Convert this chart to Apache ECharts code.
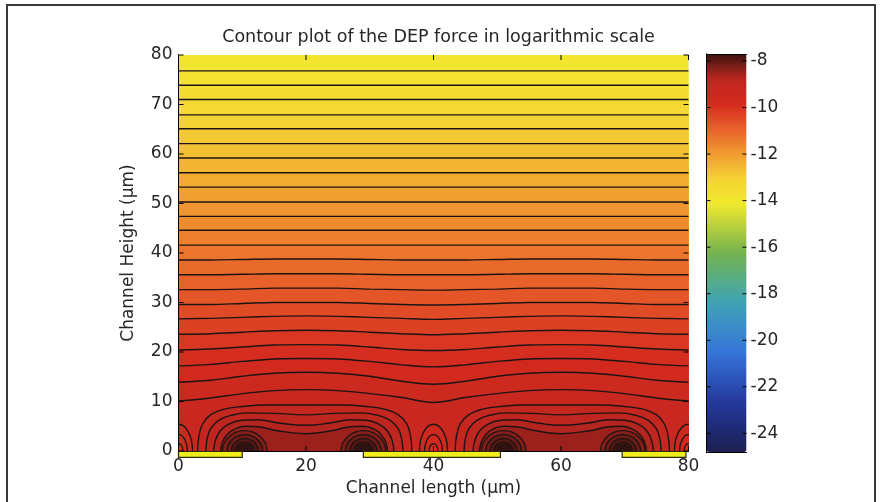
<!DOCTYPE html>
<html><head><meta charset="utf-8">
<script src="https://cdn.jsdelivr.net/npm/echarts@6/dist/echarts.min.js"></script>
<style>html,body{margin:0;padding:0;background:#fff}#c{width:881px;height:502px}</style>
</head><body><div id="c"></div>
<script>
// ================= DATA =================
const xTicks = [0, 20, 40, 60, 80];
const yTicks = [0, 10, 20, 30, 40, 50, 60, 70, 80];
const colorbarTicks = [-24, -22, -20, -18, -16, -14, -12, -10, -8];
const colorRange = [-24.8, -7.7];
// electrodes along the channel floor (µm)
const electrodes = [[0, 10], [29, 50.5], [69.6, 79.6]];
// value of the band above the highest contour line
const topBandValue = -13.9;
// straight far-field contour lines: level and height (µm)
const flatLevels  = [-13.8, -13.6, -13.4, -13.2, -13.0, -12.8, -12.6, -12.4, -12.2, -12.0, -11.8, -11.6, -11.4];
const flatHeights = [ 76.8,  73.9,  71.0,  67.9,  65.1,  62.1,  59.2,  56.2,  53.3,  50.3,  47.4,  44.6,  41.6];
// slightly undulating contour lines, heights (µm) at waveX
const waveX = [0, 5, 10, 15, 20, 25, 30, 35, 40, 45, 50, 55, 60, 65, 70, 75, 80];
const waveLevels = [-11.2, -11.0, -10.8, -10.6, -10.4, -10.2, -10.0, -9.8, -9.6, -9.4];
const waveHeights = [
  [38.6, 38.6, 38.7, 38.8, 38.8, 38.8, 38.7, 38.6, 38.6, 38.6, 38.7, 38.8, 38.8, 38.8, 38.7, 38.6, 38.6],
  [35.6, 35.6, 35.7, 35.8, 35.8, 35.8, 35.7, 35.6, 35.6, 35.6, 35.7, 35.8, 35.8, 35.8, 35.7, 35.6, 35.6],
  [32.6, 32.6, 32.7, 32.9, 32.9, 32.9, 32.7, 32.6, 32.5, 32.6, 32.7, 32.9, 32.9, 32.9, 32.7, 32.6, 32.6],
  [29.6, 29.6, 29.8, 30.0, 30.0, 30.0, 29.8, 29.6, 29.5, 29.6, 29.8, 30.0, 30.0, 30.0, 29.8, 29.6, 29.6],
  [26.7, 26.8, 27.0, 27.2, 27.3, 27.2, 27.0, 26.8, 26.6, 26.8, 27.0, 27.2, 27.3, 27.2, 27.0, 26.8, 26.7],
  [23.6, 23.7, 24.0, 24.3, 24.4, 24.3, 24.0, 23.7, 23.5, 23.7, 24.0, 24.3, 24.4, 24.3, 24.0, 23.7, 23.6],
  [20.4, 20.6, 21.0, 21.4, 21.5, 21.4, 21.0, 20.5, 20.3, 20.5, 21.0, 21.4, 21.5, 21.4, 21.0, 20.6, 20.4],
  [17.2, 17.5, 18.1, 18.6, 18.7, 18.6, 18.1, 17.4, 17.0, 17.4, 18.1, 18.6, 18.7, 18.6, 18.1, 17.5, 17.2],
  [13.9, 14.3, 15.1, 15.7, 15.9, 15.7, 15.1, 14.1, 13.5, 14.1, 15.1, 15.7, 15.9, 15.7, 15.1, 14.3, 13.9],
  [10.1, 10.7, 11.6, 12.2, 12.4, 12.2, 11.6, 10.8,  9.8, 10.8, 11.6, 12.2, 12.4, 12.2, 11.6, 10.7, 10.1]
];
// dome-shaped contours over the electrode gaps: level and points [x, y] in µm
const domeLevels = [-9.2, -9.2, -9.0, -9.0, -8.8, -8.8, -8.6, -8.6];
const domePoints = [
  [[3.0,0],[3.2,3.0],[3.8,5.5],[5.0,7.3],[7.0,8.4],[10,9.0],[14,9.3],[20,9.3],[25.5,9.3],[29.5,9.0],[32.5,8.4],[34.5,7.3],[35.8,5.5],[36.4,3.0],[36.6,0]],
  [[43.4,0],[43.6,3.0],[44.2,5.5],[45.5,7.3],[47.5,8.4],[50.5,9.0],[54.5,9.3],[60,9.3],[66,9.3],[70,9.0],[73,8.4],[75,7.3],[76.2,5.5],[76.8,3.0],[77.0,0]],
  [[4.3,0],[4.5,2.5],[5.1,4.6],[6.3,6.2],[8.2,7.2],[11,7.7],[15,7.6],[20,7.3],[24.5,7.6],[28.5,7.7],[31.3,7.2],[33.2,6.2],[34.4,4.6],[35.0,2.5],[35.2,0]],
  [[44.8,0],[45.0,2.5],[45.6,4.6],[46.8,6.2],[48.7,7.2],[51.5,7.7],[55.5,7.6],[60,7.3],[65,7.6],[69,7.7],[71.8,7.2],[73.7,6.2],[74.9,4.6],[75.5,2.5],[75.7,0]],
  [[5.5,0],[5.8,2.2],[6.5,4.0],[7.8,5.4],[10,6.2],[12.5,6.3],[16,5.6],[20,5.2],[23.5,5.6],[27,6.3],[29.5,6.2],[31.5,5.4],[32.8,4.0],[33.5,2.2],[33.8,0]],
  [[46.2,0],[46.5,2.2],[47.2,4.0],[48.5,5.4],[50.5,6.2],[53,6.3],[56.5,5.6],[60,5.2],[64,5.6],[67.5,6.3],[70,6.2],[72.2,5.4],[73.5,4.0],[74.2,2.2],[74.5,0]],
  [[6.6,0],[6.9,1.8],[7.6,3.3],[8.8,4.4],[10.5,5.0],[12.5,4.9],[15.5,4.1],[20,3.5],[24,4.1],[27,4.9],[29,5.0],[30.7,4.4],[31.8,3.3],[32.5,1.8],[32.8,0]],
  [[47.2,0],[47.5,1.8],[48.2,3.3],[49.3,4.4],[51,5.0],[53,4.9],[56,4.1],[60,3.5],[64.5,4.1],[67.5,4.9],[69.5,5.0],[71.2,4.4],[72.4,3.3],[73.1,1.8],[73.4,0]]
];
// rings around the electrode edges: centre x, half-width, height (µm), level
const ringCentres = [10.4, 29.0, 51.0, 69.7];
const ringLevels  = [-8.4, -8.2, -8.0, -7.8, -7.6, -7.4];
const ringWidths  = [3.5, 2.8, 2.1, 1.5, 1.0, 0.5];
const ringHeights = [4.1, 3.3, 2.5, 1.8, 1.2, 0.6];
// low-force arches above the electrode centres
const archCentres = [0, 40, 80];
const archLevels  = [-9.4, -9.6, -9.8];
const archWidths  = [2.2, 1.4, 0.7];
const archHeights = [5.4, 3.3, 1.5];

// ================= STYLE =================
const FONT = 'DejaVu Sans';
const TXT = '#262626';
const LINE = '#1c1414';
const cmap = ['#1d1f4f', '#202c78', '#24399a', '#2c56bc', '#3574d8', '#3a8cc8', '#3fa3b6', '#58ac82', '#74b24e',
              '#b4ce3e', '#f2ea2e', '#f4d234', '#f09a30', '#e8602a', '#d42a1e', '#bc2620', '#3c1410'];

function rgb(h) { return [parseInt(h.slice(1,3),16), parseInt(h.slice(3,5),16), parseInt(h.slice(5,7),16)]; }
function colorAt(v) {
  let t = (v - colorRange[0]) / (colorRange[1] - colorRange[0]);
  t = Math.max(0, Math.min(1, t));
  const s = t * (cmap.length - 1);
  const i = Math.min(cmap.length - 2, Math.floor(s));
  const f = s - i;
  const a = rgb(cmap[i]), b = rgb(cmap[i + 1]);
  const c = a.map((u, k) => Math.round(u + (b[k] - u) * f));
  return 'rgb(' + c.join(',') + ')';
}

const series = [];
function addContour(points, fillValue, smooth, stroke) {
  series.push({
    type: 'line', xAxisIndex: 0, yAxisIndex: 0, data: points, smooth: smooth,
    symbol: 'none', silent: true, animation: false, z: 2,
    lineStyle: stroke ? { color: LINE, width: 1.4 } : { width: 0, opacity: 0 },
    areaStyle: { color: colorAt(fillValue), opacity: 1 }
  });
}
addContour([[0, 80], [80, 80]], topBandValue, false, false);
flatLevels.forEach((lv, i) => addContour([[0, flatHeights[i]], [80, flatHeights[i]]], lv + 0.1, false, true));
waveLevels.forEach((lv, i) => addContour(waveX.map((x, j) => [x, waveHeights[i][j]]), lv + 0.1, 0.35, true));
domeLevels.forEach((lv, i) => addContour(domePoints[i], lv + 0.1, 0.45, true));

const ellipseItems = [];
ringLevels.forEach((lv, k) => ringCentres.forEach(cx => ellipseItems.push([cx, ringWidths[k], ringHeights[k], lv + 0.1])));
archLevels.forEach((lv, k) => archCentres.forEach(cx => ellipseItems.push([cx, archWidths[k], archHeights[k], lv - 0.1])));
series.push({
  type: 'custom', xAxisIndex: 0, yAxisIndex: 0, clip: true, silent: true, animation: false, z: 3,
  data: ellipseItems,
  renderItem(params, api) {
    const c = api.coord([api.value(0), 0]);
    const s = api.size([api.value(1), api.value(2)]);
    return { type: 'ellipse', shape: { cx: c[0], cy: c[1], rx: s[0], ry: s[1] },
      style: { fill: colorAt(api.value(3)), stroke: LINE, lineWidth: 1.3 } };
  }
});
// electrodes
series.push({
  type: 'custom', xAxisIndex: 0, yAxisIndex: 0, clip: false, silent: true, animation: false, z: 20,
  data: electrodes,
  renderItem(params, api) {
    const p0 = api.coord([api.value(0), 0]);
    const p1 = api.coord([api.value(1), 0]);
    const h = api.size([0, 1.2])[1];
    return { type: 'rect', shape: { x: p0[0], y: p0[1] + 0.5, width: p1[0] - p0[0], height: h },
      style: { fill: '#f4ee1c', stroke: '#2a2a10', lineWidth: 1.2 } };
  }
});
// inward tick marks on all four sides of the plot box
const TICK = 5;
const tickItems = xTicks.map(v => [0, v]).concat(yTicks.map(v => [1, v]));
series.push({
  type: 'custom', xAxisIndex: 0, yAxisIndex: 0, clip: false, silent: true, animation: false, z: 30,
  data: tickItems,
  renderItem(params, api) {
    const kind = api.value(0), v = api.value(1);
    const st = { stroke: '#000', lineWidth: 1 };
    if (kind === 0) {
      const a = api.coord([v, yTicks[0]]), b = api.coord([v, yTicks[yTicks.length - 1]]);
      return { type: 'group', children: [
        { type: 'line', shape: { x1: a[0], y1: a[1], x2: a[0], y2: a[1] - TICK }, style: st },
        { type: 'line', shape: { x1: b[0], y1: b[1], x2: b[0], y2: b[1] + TICK }, style: st } ] };
    }
    const a = api.coord([xTicks[0], v]), b = api.coord([xTicks[xTicks.length - 1], v]);
    return { type: 'group', children: [
      { type: 'line', shape: { x1: a[0], y1: a[1], x2: a[0] + TICK, y2: a[1] }, style: st },
      { type: 'line', shape: { x1: b[0], y1: b[1], x2: b[0] - TICK, y2: b[1] }, style: st } ] };
  }
});
// inward tick marks on the colour bar
series.push({
  type: 'custom', xAxisIndex: 2, yAxisIndex: 2, clip: false, silent: true, animation: false, z: 30,
  data: colorbarTicks.map(v => [v]),
  encode: { y: 0 },
  renderItem(params, api) {
    const v = api.value(0);
    const a = api.coord([0, v]), b = api.coord([1, v]);
    const st = { stroke: '#000', lineWidth: 1 };
    return { type: 'group', children: [
      { type: 'line', shape: { x1: a[0], y1: a[1], x2: a[0] + 4, y2: a[1] }, style: st },
      { type: 'line', shape: { x1: b[0], y1: b[1], x2: b[0] - 4, y2: b[1] }, style: st } ] };
  }
});
series.push({ type: 'scatter', xAxisIndex: 2, yAxisIndex: 2, data: [] });
const dummyIndex = series.length - 1;

const lbl = { fontFamily: FONT, fontSize: 17, color: TXT };
const G0 = { left: 178.5, top: 55, width: 510, height: 397 };
const G1 = { left: 706.5, top: 54, width: 40, height: 398 };
const axLine = { show: true, lineStyle: { color: '#000', width: 1 } };
const noTick = { show: false };

const option = {
  backgroundColor: '#ffffff',
  animation: false,
  title: {
    text: 'Contour plot of the DEP force in logarithmic scale',
    left: G0.left + G0.width / 2, top: 23, textAlign: 'center',
    textStyle: { fontFamily: FONT, fontSize: 17.5, fontWeight: 'normal', color: TXT }
  },
  grid: [G0, G1],
  xAxis: [
    { gridIndex: 0, type: 'value', min: xTicks[0], max: xTicks[xTicks.length - 1], interval: xTicks[1] - xTicks[0], position: 'bottom', z: 10,
      name: 'Channel length (\u00b5m)', nameLocation: 'middle', nameGap: 29, nameTextStyle: lbl,
      axisLine: axLine, axisTick: noTick,
      axisLabel: Object.assign({ margin: 7 }, lbl), splitLine: { show: false } },
    { gridIndex: 0, type: 'value', min: xTicks[0], max: xTicks[xTicks.length - 1], interval: xTicks[1] - xTicks[0], position: 'top', z: 10,
      axisLine: axLine, axisTick: noTick, axisLabel: { show: false }, splitLine: { show: false } },
    { gridIndex: 1, type: 'value', min: 0, max: 1, position: 'bottom', z: 10,
      axisLine: axLine, axisTick: noTick, axisLabel: { show: false }, splitLine: { show: false } },
    { gridIndex: 1, type: 'value', min: 0, max: 1, position: 'top', z: 10,
      axisLine: axLine, axisTick: noTick, axisLabel: { show: false }, splitLine: { show: false } }
  ],
  yAxis: [
    { gridIndex: 0, type: 'value', min: yTicks[0], max: yTicks[yTicks.length - 1], interval: yTicks[1] - yTicks[0], position: 'left', z: 10,
      name: 'Channel Height (\u00b5m)', nameLocation: 'middle', nameGap: 41, nameRotate: 90, nameTextStyle: lbl,
      axisLine: axLine, axisTick: noTick,
      axisLabel: Object.assign({ margin: 6 }, lbl), splitLine: { show: false } },
    { gridIndex: 0, type: 'value', min: yTicks[0], max: yTicks[yTicks.length - 1], interval: yTicks[1] - yTicks[0], position: 'right', z: 10,
      axisLine: axLine, axisTick: noTick, axisLabel: { show: false }, splitLine: { show: false } },
    { gridIndex: 1, type: 'value', min: colorRange[0], max: colorRange[1], splitNumber: 8, position: 'right', z: 10,
      axisLine: axLine, axisTick: noTick,
      axisLabel: Object.assign({ margin: 4, formatter: v => colorbarTicks.some(t => Math.abs(t - v) < 1e-6) ? String(Math.round(v)) : '' }, lbl),
      splitLine: { show: false } },
    { gridIndex: 1, type: 'value', min: colorRange[0], max: colorRange[1], splitNumber: 8, position: 'left', z: 10,
      axisLine: axLine, axisTick: noTick, axisLabel: { show: false }, splitLine: { show: false } }
  ],
  visualMap: {
    type: 'continuous', min: colorRange[0], max: colorRange[1], seriesIndex: dummyIndex, z: 1,
    orient: 'vertical', left: G1.left, top: G1.top, itemWidth: G1.width, itemHeight: G1.height,
    padding: 0, calculable: false, realtime: false, hoverLink: false, text: null,
    inRange: { color: cmap }
  },
  graphic: [
    { type: 'rect', shape: { x: 7, y: 5, width: 868, height: 520 }, style: { fill: 'none', stroke: '#3a3a3a', lineWidth: 2 }, silent: true, z: 0 }
  ],
  series: series
};
const chart = echarts.init(document.getElementById('c'), null, { renderer: 'canvas', width: 881, height: 502 });
chart.setOption(option);
</script></body></html>
